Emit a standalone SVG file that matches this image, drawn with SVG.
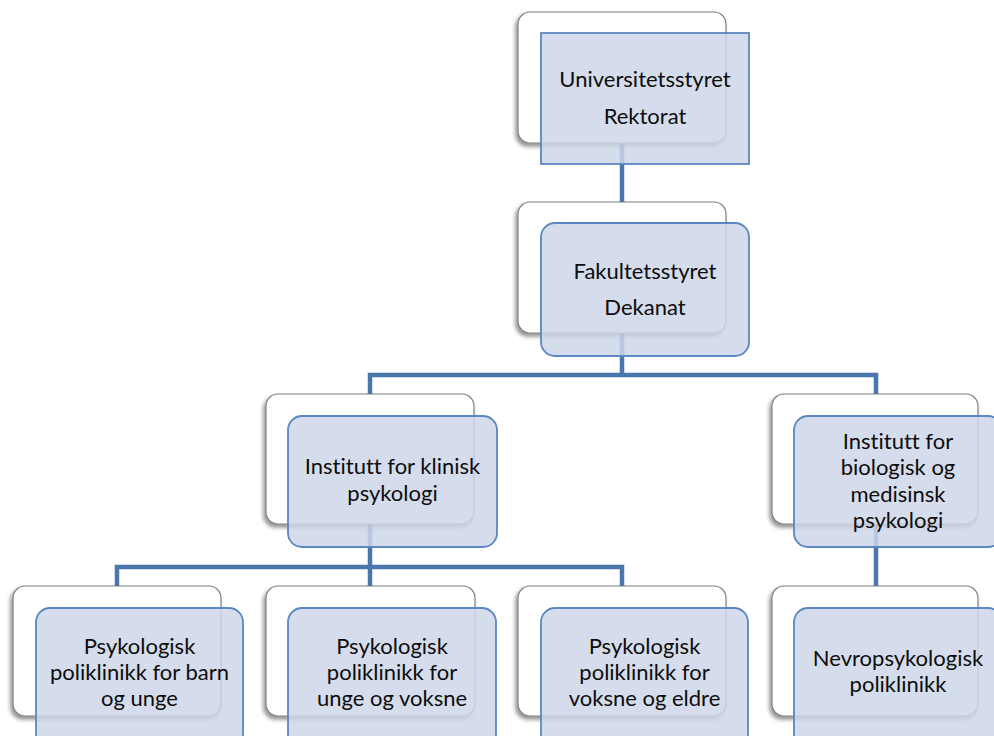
<svg xmlns="http://www.w3.org/2000/svg" width="994" height="736" viewBox="0 0 994 736">
<defs>
<filter id="sh" x="-10%" y="-10%" width="125%" height="125%">
<feGaussianBlur in="SourceAlpha" stdDeviation="2"/>
<feOffset dx="-2" dy="3" result="b"/>
<feComponentTransfer><feFuncA type="linear" slope="0.45"/></feComponentTransfer>
<feMerge><feMergeNode/><feMergeNode in="SourceGraphic"/></feMerge>
</filter>
</defs>
<style>
.back{fill:#ffffff;stroke:#7f7f7f;stroke-width:1.2;filter:url(#sh)}
.front{fill:rgb(206,214,231);fill-opacity:0.85;stroke:#5b87c2;stroke-width:1.8}
.conn{fill:none;stroke:#4a76ae;stroke-width:4.5}
text{font-family:Lato,"Open Sans","Liberation Sans",sans-serif;font-size:22px;fill:#0d0d0d;text-anchor:middle;font-variant-ligatures:none}
</style>
<rect width="994" height="736" fill="#fff"/>
<g id="connectors">
<path class="conn" d="M622 143 V202"/>
<path class="conn" d="M622 333 V375 M370 394 V375 H876 V394"/>
<path class="conn" d="M370 524 V567 M117 586 V567 H622 V586 M370 567 V586"/>
<path class="conn" d="M876 524 V586"/>
</g>
<g id="n1">
<rect class="back" x="518" y="12" width="208" height="131" rx="12"/>
<rect class="front" x="541" y="33" width="208" height="131"/>
<text x="645" y="87">Universitetsstyret</text>
<text x="645" y="124">Rektorat</text>
</g>
<g id="n2">
<rect class="back" x="518" y="202" width="208" height="131" rx="12"/>
<rect class="front" x="541" y="223" width="208" height="133" rx="14"/>
<text x="645" y="279">Fakultetsstyret</text>
<text x="645" y="315">Dekanat</text>
</g>
<g id="n3">
<rect class="back" x="266" y="394" width="208" height="130" rx="12"/>
<rect class="front" x="288" y="416" width="209" height="131" rx="14"/>
<text x="392.5" y="474">Institutt for klinisk</text>
<text x="392.5" y="501">psykologi</text>
</g>
<g id="n4">
<rect class="back" x="772" y="394" width="206" height="130" rx="12"/>
<rect class="front" x="794" y="416" width="208" height="131" rx="14"/>
<text x="898" y="449">Institutt for</text>
<text x="898" y="475">biologisk og</text>
<text x="898" y="502">medisinsk</text>
<text x="898" y="528">psykologi</text>
</g>
<g id="n5">
<rect class="back" x="13" y="586" width="208" height="130" rx="12"/>
<rect class="front" x="36" y="608" width="207" height="140" rx="14"/>
<text x="139.5" y="654">Psykologisk</text>
<text x="139.5" y="680">poliklinikk for barn</text>
<text x="139.5" y="706">og unge</text>
</g>
<g id="n6">
<rect class="back" x="266" y="586" width="209" height="130" rx="12"/>
<rect class="front" x="288" y="608" width="208" height="140" rx="14"/>
<text x="392" y="654">Psykologisk</text>
<text x="392" y="680">poliklinikk for</text>
<text x="392" y="706">unge og voksne</text>
</g>
<g id="n7">
<rect class="back" x="518" y="586" width="208" height="130" rx="12"/>
<rect class="front" x="541" y="608" width="207" height="140" rx="14"/>
<text x="644.5" y="654">Psykologisk</text>
<text x="644.5" y="680">poliklinikk for</text>
<text x="644.5" y="706">voksne og eldre</text>
</g>
<g id="n8">
<rect class="back" x="772" y="586" width="206" height="130" rx="12"/>
<rect class="front" x="794" y="608" width="208" height="140" rx="14"/>
<text x="898" y="666">Nevropsykologisk</text>
<text x="898" y="692">poliklinikk</text>
</g>
</svg>
